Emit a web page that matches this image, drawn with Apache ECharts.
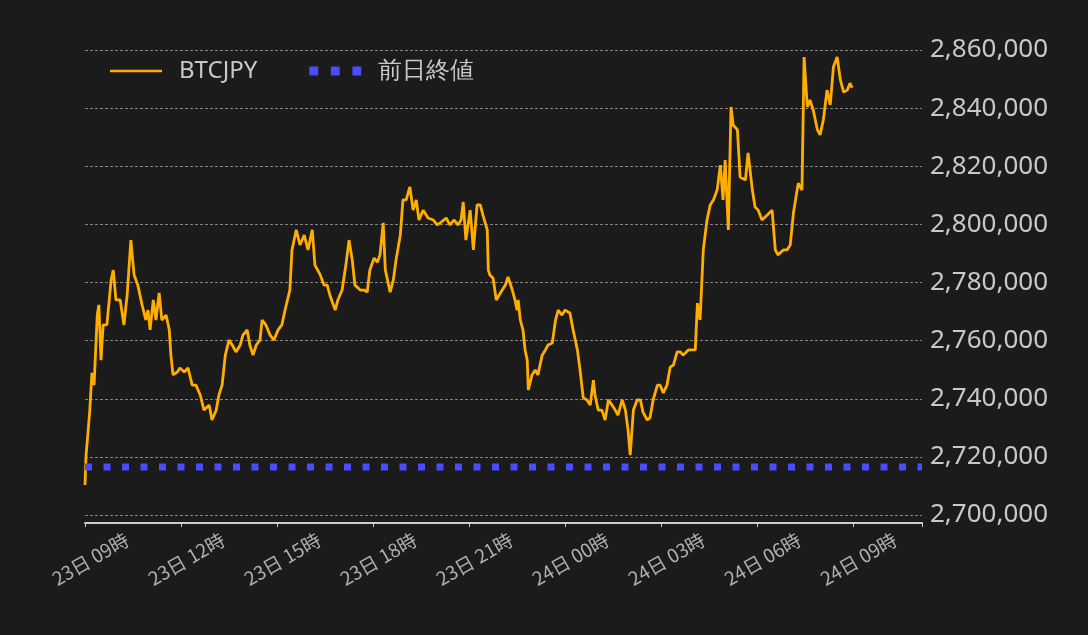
<!DOCTYPE html>
<html><head><meta charset="utf-8">
<script src="https://cdn.jsdelivr.net/npm/echarts@6/dist/echarts.min.js"></script>
<style>html,body{margin:0;background:#1b1b1b}#c{width:1088px;height:635px}</style>
</head><body><div id="c"></div>
<script>
const startDay = 23, startHour = 9;
const minutes = [0,2,6,9,13,17,23,26,30,34,41,49,53,58,66,73,79,86,92,99,107,114,118,122,128,133,139,144,152,158,161,165,173,178,186,193,201,208,216,223,233,238,246,251,257,263,270,276,283,291,296,304,309,315,321,328,332,339,347,354,362,369,375,384,388,396,403,411,418,426,431,441,448,454,459,469,474,482,489,495,501,506,516,523,529,534,542,548,553,559,563,572,578,583,591,596,602,609,615,621,626,634,643,653,660,668,677,684,692,699,705,709,714,722,728,735,741,746,754,756,759,765,771,774,782,788,793,801,806,810,812,816,821,825,829,831,838,844,849,857,863,868,876,882,887,894,900,909,915,923,928,934,941,947,953,956,962,969,975,981,988,994,999,1007,1013,1018,1022,1028,1035,1041,1046,1054,1059,1065,1073,1078,1084,1091,1097,1103,1110,1116,1121,1131,1144,1148,1153,1159,1166,1172,1178,1185,1191,1196,1200,1206,1211,1215,1223,1228,1238,1243,1251,1256,1262,1269,1279,1288,1294,1299,1309,1316,1322,1328,1337,1344,1348,1354,1359,1365,1373,1378,1384,1391,1397,1403,1410,1416,1422,1429,1434,1438];
const pricesK = [2710.3,2720.6,2729.2,2736.1,2748.9,2744.7,2768.8,2772.3,2753.3,2765.4,2765.4,2780.9,2784.3,2774,2774,2765.4,2775.7,2794.6,2782.6,2779.1,2772.3,2767.1,2770.5,2763.7,2774,2767.1,2776.4,2767.1,2768.8,2763.7,2755,2748.2,2749.2,2750.6,2749.2,2750.6,2744.7,2744.7,2741.3,2736.1,2737.8,2732.7,2736.1,2741.3,2744.7,2755,2760.2,2758.5,2756.1,2758.5,2761.9,2763.7,2758.5,2755,2758.5,2760.2,2767.1,2765.4,2761.9,2760.2,2763.7,2765.4,2770.5,2777.4,2791.2,2798.1,2792.9,2796.3,2791.2,2798.1,2786,2782.6,2779.1,2779.1,2775.7,2770.5,2774,2777.4,2786,2794.6,2787.7,2779.1,2777.4,2777.4,2776.7,2784.3,2788.4,2787,2789.5,2800.5,2784.3,2776.7,2780.9,2787.7,2796.3,2808.4,2808.4,2812.9,2804.9,2808.4,2801.5,2804.9,2802.2,2801.5,2799.8,2800.8,2802.2,2799.8,2801.5,2799.8,2801.5,2807.7,2794.6,2804.9,2791.2,2806.7,2806.7,2803.2,2798.1,2784.3,2782.6,2781.5,2774,2774,2777.4,2779.1,2781.9,2777.4,2774,2770.5,2774,2767.1,2763.7,2756.8,2753.3,2743,2748.2,2749.9,2748.2,2755,2756.8,2758.5,2759.2,2767.1,2770.5,2768.8,2770.5,2769.5,2763.7,2756.8,2749.9,2740.3,2739.6,2737.8,2746.4,2741.3,2736.1,2736.1,2732.7,2739.6,2737.8,2736.1,2734.4,2739.6,2736.1,2729.2,2720.6,2736.1,2739.6,2739.6,2735.4,2732.7,2733.4,2739.6,2744.7,2744.7,2742,2744.7,2750.9,2751.6,2756.1,2756.1,2755,2756.8,2756.8,2772.9,2767.1,2791.2,2801.5,2806.7,2808.4,2811.8,2820.4,2808.4,2822.1,2798.1,2840.4,2834.2,2832.5,2816.3,2815.3,2824.6,2811.8,2806,2804.9,2801.5,2803.2,2804.9,2791.2,2789.5,2791.2,2791.2,2792.9,2803.9,2814.2,2811.8,2857.6,2840.4,2842.8,2839.4,2832.5,2830.8,2835.9,2846.2,2841.1,2854.2,2857.6,2849.7,2845.5,2846.2,2848.6,2847];
const prevClose = 2716500;
const yTicks = {min:2700000, max:2860000, step:20000};
const xRange = {min:0, max:1569, step:180};

const lineData = minutes.map((m,i)=>[m, Math.round(pricesK[i]*1000)]);
function fmtX(v){
  const tot = startHour*60 + v;
  const d = startDay + Math.floor(tot/1440);
  const h = Math.floor((tot%1440)/60);
  return d+'日 '+String(h).padStart(2,'0')+'時';
}
const chart = echarts.init(document.getElementById('c'));
chart.setOption({
  backgroundColor:'#1b1b1b',
  animation:false,
  grid:[{left:85,right:166,top:50,bottom:120},{left:127,right:124,top:50,bottom:120}],
  legend:{left:105,top:54,itemWidth:52,itemHeight:10,itemGap:52,
    textStyle:{color:'#c8c8c8',fontSize:24,fontFamily:'Noto Sans',padding:[0,0,0,12]},
    data:[{name:'BTCJPY',icon:'path://M0,4h52v2.5h-52z'},{name:'前日終値',icon:'path://M0,2h7v7h-7zM17,2h7v7h-7zM34,2h7v7h-7z'}]},
  xAxis:[{type:'value',min:xRange.min,max:xRange.max,interval:xRange.step,offset:8,
    axisLine:{lineStyle:{color:'#cccccc',width:2}},
    axisTick:{show:true,length:4,lineStyle:{color:'#cccccc'}},
    splitLine:{show:false},axisLabel:{show:false}},
   {type:'value',gridIndex:1,min:xRange.min,max:xRange.max,interval:xRange.step,offset:8,
    axisLine:{show:false},axisTick:{show:false},splitLine:{show:false},
    axisLabel:{rotate:30,color:'#b0b0b0',fontSize:19,fontFamily:'Noto Sans CJK JP',margin:15,
      showMaxLabel:false,formatter:fmtX}}],
  yAxis:[{type:'value',position:'right',min:yTicks.min,max:yTicks.max,interval:yTicks.step,
    axisLine:{show:false},axisTick:{show:false},
    splitLine:{lineStyle:{color:'#a0a0a0',type:[3,2],width:0.8}},
    axisLabel:{color:'#c8c8c8',fontSize:26,fontFamily:'Noto Sans',margin:8,
      formatter:v=>v.toLocaleString('en-US')}},
   {type:'value',gridIndex:1,show:false,min:yTicks.min,max:yTicks.max}],
  series:[
    {name:'BTCJPY',type:'line',data:lineData,showSymbol:false,symbol:'none',
      lineStyle:{color:'#ffae00',width:2.8},itemStyle:{color:'#ffae00'}},
    {name:'前日終値',type:'line',data:[[xRange.min,prevClose],[xRange.max,prevClose]],showSymbol:false,symbol:'none',
      lineStyle:{color:'#4a4aff',width:7,type:[7,11.5]},itemStyle:{color:'#4a4aff'}}
  ]
});
</script></body></html>
